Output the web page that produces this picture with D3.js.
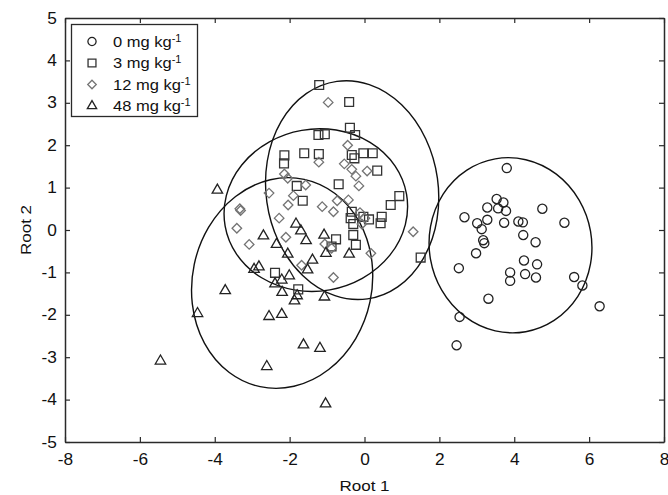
<!DOCTYPE html>
<html>
<head>
<meta charset="utf-8">
<script src="https://cdn.jsdelivr.net/npm/d3@7"></script>
<style>
    body { margin: 0; background: #fff; }
    svg { display: block; font-family: 'Liberation Sans', Arial, sans-serif; }
</style>
</head>
<body>
<div id="vis"></div>
<script>
// values (Root 1, Root 2)
const dose0X = [3.80, 3.53, 3.71, 3.28, 3.57, 3.78, 4.75, 2.67, 3.28, 3.01, 3.73, 4.11, 4.23, 5.34, 3.13, 4.24, 4.57,
    3.17, 3.20, 2.98, 2.52, 4.26, 4.61, 3.89, 4.29, 4.58, 3.89, 5.60, 5.82, 3.31, 6.28, 2.54, 2.46];
const dose0Y = [1.46, 0.73, 0.65, 0.53, 0.51, 0.45, 0.50, 0.30, 0.24, 0.16, 0.17, 0.20, 0.18, 0.17, 0.02, -0.12, -0.29,
    -0.24, -0.31, -0.55, -0.90, -0.72, -0.81, -1.00, -1.04, -1.12, -1.20, -1.11, -1.31, -1.62, -1.80, -2.05, -2.72];

const dose3X = [-1.21, -0.41, -1.23, -1.06, -0.39, -0.25, -2.14, -2.15, -1.61, -1.22, -0.34, -0.27, -0.03, 0.22, 0.34,
    -1.81, -1.65, -0.69, 0.93, 0.70, -0.34, -0.37, -0.03, 0.12, 0.46, 0.43, -0.30, -0.30, -0.23, -0.76, -0.88, -2.39,
    -1.77, 1.50];
const dose3Y = [3.42, 3.02, 2.24, 2.26, 2.41, 2.24, 1.76, 1.57, 1.81, 1.79, 1.77, 1.69, 1.81, 1.81, 1.40,
    1.04, 0.69, 1.08, 0.80, 0.59, 0.43, 0.28, 0.31, 0.25, 0.31, 0.16, 0.14, -0.12, -0.35, -0.22, -0.39, -1.01,
    -1.40, -0.65];

const dose12X = [-0.97, -1.22, -2.14, -2.05, -1.57, -2.55, -1.90, -2.04, -3.33, -0.54, -0.34, 0.07, -0.23, -0.15,
    -0.73, -0.43, -1.13, -0.83, -3.31, -2.28, -3.41, -0.12, 0.01, -0.07, 1.30, -2.10, -3.08, -1.06, -0.88, 0.17,
    -1.68, -0.83, -0.45];
const dose12Y = [3.01, 1.60, 1.32, 1.22, 1.06, 0.87, 0.81, 0.59, 0.50, 1.56, 1.43, 1.39, 1.27, 1.04,
    0.69, 0.71, 0.55, 0.43, 0.46, 0.28, 0.04, 0.41, 0.28, 0.14, -0.04, -0.17, -0.34, -0.33, -0.43, -0.55,
    -0.83, -1.12, 2.00];

const dose48X = [-3.93, -1.83, -1.70, -1.56, -2.70, -2.35, -1.08, -1.03, -0.41, -2.05, -1.39, -1.52, -2.95, -2.01,
    -2.21, -2.39, -3.72, -2.20, -1.80, -1.87, -1.07, -4.46, -2.55, -2.21, -1.63, -1.19, -2.61, -5.45, -1.04, -2.82];
const dose48Y = [0.94, 0.14, -0.02, -0.25, -0.14, -0.34, -0.12, -0.55, -0.57, -0.57, -0.71, -0.94, -0.93, -1.08,
    -1.18, -1.27, -1.43, -1.47, -1.55, -1.67, -1.58, -1.97, -2.04, -1.99, -2.71, -2.79, -3.22, -3.09, -4.10, -0.87];

// confidence ellipses: centre, half axes (data units), tilt (degrees on screen)
const ellipseCx = [3.90, -0.33, -1.30, -2.20];
const ellipseCy = [-0.36, 0.94, 0.47, -1.25];
const ellipseRx = [2.17, 2.30, 2.46, 2.40];
const ellipseRy = [2.07, 2.59, 1.91, 2.50];
const ellipseTilt = [-10, -8, -10, 12];

const groupNames = ['0 mg kg', '3 mg kg', '12 mg kg', '48 mg kg'];
const xTicks = [-8, -6, -4, -2, 0, 2, 4, 6, 8];
const yTicks = [-5, -4, -3, -2, -1, 0, 1, 2, 3, 4, 5];

let dimensions = {
    width: 668,
    height: 495,
    margin: {
        top: 18,
        right: 4,
        bottom: 53,
        left: 65
    }
};
dimensions.boundedWidth =
    dimensions.width - dimensions.margin.left - dimensions.margin.right;
dimensions.boundedHeight =
    dimensions.height - dimensions.margin.top - dimensions.margin.bottom;

const wrapper = d3.select('#vis')
    .append('svg')
    .attr('width', dimensions.width)
    .attr('height', dimensions.height);

const bounds = wrapper.append('g')
    .attr('transform', `translate(${dimensions.margin.left},${dimensions.margin.top})`);

const xScale = d3.scaleLinear()
    .domain([-8, 8])
    .range([0, dimensions.boundedWidth]);

const yScale = d3.scaleLinear()
    .domain([-5, 5])
    .range([dimensions.boundedHeight, 0]);

// axes, ticks point inward on every side
const frameColor = '#2a2a2a';
const tickLen = 5;
const plainFormat = d => String(d); // hyphen minus like the original

const xAxis = bounds.append('g')
    .attr('transform', `translate(0,${dimensions.boundedHeight})`)
    .call(d3.axisBottom(xScale).tickValues(xTicks).tickFormat(plainFormat)
        .tickSize(-tickLen).tickSizeOuter(0).tickPadding(12));
const yAxis = bounds.append('g')
    .call(d3.axisLeft(yScale).tickValues(yTicks).tickFormat(plainFormat)
        .tickSize(-tickLen).tickSizeOuter(0).tickPadding(8));
const topAxis = bounds.append('g')
    .call(d3.axisTop(xScale).tickValues(xTicks).tickSize(-tickLen).tickSizeOuter(0).tickFormat(''));
const rightAxis = bounds.append('g')
    .attr('transform', `translate(${dimensions.boundedWidth},0)`)
    .call(d3.axisRight(yScale).tickValues(yTicks).tickSize(-tickLen).tickSizeOuter(0).tickFormat(''));

[xAxis, yAxis, topAxis, rightAxis].forEach(ax => {
    ax.select('.domain').attr('stroke', frameColor).attr('stroke-width', 1.5);
    ax.selectAll('.tick line').attr('stroke', frameColor).attr('stroke-width', 1.2);
    ax.selectAll('.tick text')
        .attr('fill', '#111')
        .style('font-size', '16px')
        .style('font-family', "'Liberation Sans', Arial, sans-serif");
});
// original lettering is a little wider than Arial
xAxis.selectAll('.tick text').attr('transform', 'scale(1.08,1)');
yAxis.selectAll('.tick text').attr('transform', 'scale(1.08,1)').attr('x', -7.5);

wrapper.append('text')
    .attr('transform', `translate(${dimensions.margin.left + xScale(0)},491) scale(1.1,1)`)
    .attr('text-anchor', 'middle')
    .style('font-size', '15.5px')
    .attr('fill', '#111')
    .text('Root 1');

wrapper.append('text')
    .attr('transform', `translate(31,${dimensions.margin.top + yScale(0)}) rotate(-90) scale(1.1,1)`)
    .attr('text-anchor', 'middle')
    .style('font-size', '15.5px')
    .attr('fill', '#111')
    .text('Root 2');

// ellipses
const ellipses = d3.range(ellipseCx.length).map(i => ({
    cx: ellipseCx[i], cy: ellipseCy[i], rx: ellipseRx[i], ry: ellipseRy[i], tilt: ellipseTilt[i]
}));
const pxPerX = xScale(1) - xScale(0);
const pxPerY = yScale(0) - yScale(1);

bounds.append('g')
    .selectAll('ellipse')
    .data(ellipses)
    .join('ellipse')
    .attr('transform', d => `translate(${xScale(d.cx)},${yScale(d.cy)}) rotate(${d.tilt})`)
    .attr('rx', d => d.rx * pxPerX)
    .attr('ry', d => d.ry * pxPerY)
    .attr('fill', 'none')
    .attr('stroke', '#111')
    .attr('stroke-width', 1.4);

// markers
const diamondType = d3.symbolDiamond2 || d3.symbolDiamond;
const triangleType = d3.symbolTriangle2 || d3.symbolTriangle;
const groups = [
    { xs: dose0X, ys: dose0Y, type: d3.symbolCircle, size: 66, color: '#222' },
    { xs: dose3X, ys: dose3Y, type: d3.symbolSquare, size: 78, color: '#333' },
    { xs: dose12X, ys: dose12Y, type: diamondType, size: 58, color: '#737373' },
    { xs: dose48X, ys: dose48Y, type: triangleType, size: 78, color: '#222' }
];

groups.forEach(g => {
    const points = g.xs.map((x, i) => ({ x: x, y: g.ys[i] }));
    bounds.append('g')
        .selectAll('path')
        .data(points)
        .join('path')
        .attr('transform', d => `translate(${xScale(d.x)},${yScale(d.y)})`)
        .attr('d', d3.symbol().type(g.type).size(g.size))
        .attr('fill', 'none')
        .attr('stroke', g.color)
        .attr('stroke-width', 1.3);
});

// legend
const legend = wrapper.append('g');
legend.append('rect')
    .attr('x', 71.5)
    .attr('y', 24.5)
    .attr('width', 126)
    .attr('height', 92)
    .attr('fill', '#fff')
    .attr('stroke', frameColor)
    .attr('stroke-width', 1.3);

const rows = legend.selectAll('g.row')
    .data(groupNames)
    .join('g')
    .attr('class', 'row')
    .attr('transform', (d, i) => `translate(0,${41.5 + i * 21.5})`);

rows.append('path')
    .attr('transform', 'translate(92,0)')
    .attr('d', (d, i) => d3.symbol().type(groups[i].type).size(groups[i].size * 0.8)())
    .attr('fill', 'none')
    .attr('stroke', (d, i) => groups[i].color)
    .attr('stroke-width', 1.3);

const labels = rows.append('text')
    .attr('transform', 'translate(113,0) scale(1.1,1)')
    .attr('dy', '0.36em')
    .style('font-size', '15px')
    .attr('fill', '#111');
labels.append('tspan').text(d => d);
labels.append('tspan')
    .attr('dy', '-0.5em')
    .style('font-size', '10px')
    .text('-1');
</script>
</body>
</html>
